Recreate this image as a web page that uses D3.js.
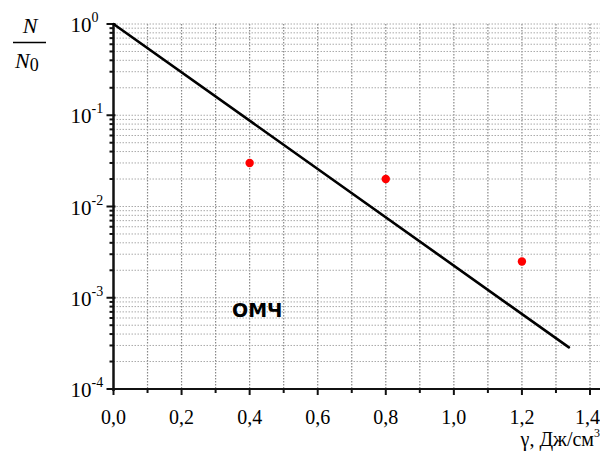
<!DOCTYPE html>
<html>
<head>
<meta charset="utf-8">
<script src="https://cdn.jsdelivr.net/npm/d3@7"></script>
<style>
  svg text, svg tspan { font-family: 'Liberation Serif', serif !important; }
  svg text.sans { font-family: 'DejaVu Sans', sans-serif !important; }
</style>
</head>
<body style="margin:0">
<svg width="600" height="457"></svg>
<script>
// data
var lineGamma = [0, 1.338];
var lineN     = [1, 2.86e-4];
var dotGamma  = [0.4, 0.8, 1.2];
var dotN      = [0.030, 0.020, 0.0025];
var xTicks    = [0, 0.2, 0.4, 0.6, 0.8, 1.0, 1.2, 1.4];
var yTicks    = [1, 1e-1, 1e-2, 1e-3, 1e-4];
var yExps     = ["0", "-1", "-2", "-3", "-4"];

var svg = d3.select("svg");

var x = d3.scaleLinear().domain([0, 1.4]).range([113.5, 590]);
var y = d3.scaleLog().domain([1e-4, 1]).range([389, 24]);

// grid
var minorX = d3.range(1, 15).map(function(i) { return i / 10; });
var minorY = [];
[1e-4, 1e-3, 1e-2, 1e-1].forEach(function(d) {
  for (var k = 2; k <= 9; k++) minorY.push(d * k);
});
minorY = minorY.concat([1e-3, 1e-2, 1e-1, 1]);

var grid = svg.append("g");
grid.selectAll(".gx").data(minorX).enter().append("line")
  .attr("x1", function(d) { return x(d); }).attr("x2", function(d) { return x(d); })
  .attr("y1", y(1)).attr("y2", y(1e-4))
  .attr("stroke", "#888").attr("stroke-width", 1.2).attr("stroke-dasharray", "1.5,1.5");
grid.selectAll(".gy").data(minorY).enter().append("line")
  .attr("x1", x(0)).attr("x2", 600)
  .attr("y1", function(d) { return y(d); }).attr("y2", function(d) { return y(d); })
  .attr("stroke", "#aaa").attr("stroke-width", 1).attr("stroke-dasharray", "1.5,1.5");

// axes
var xAxis = svg.append("g").attr("transform", "translate(0," + y(1e-4) + ")");
xAxis.append("line").attr("x1", x(0) - 2).attr("x2", 600)
  .attr("stroke", "#111").attr("stroke-width", 2);
xAxis.selectAll(".tk").data(minorX.concat([0])).enter().append("line")
  .attr("x1", function(d) { return x(d); }).attr("x2", function(d) { return x(d); })
  .attr("y1", 0)
  .attr("y2", function(d) { return Math.round(d * 10) % 2 === 0 ? 6 : 4; })
  .attr("stroke", "#111").attr("stroke-width", 2);
xAxis.selectAll(".lb").data(xTicks).enter().append("text")
  .attr("x", function(d) { return d === 1.4 ? 600 : x(d); })
  .attr("y", 35)
  .attr("text-anchor", function(d) { return d === 1.4 ? "end" : "middle"; })
  .style("font-family", "'Liberation Serif'").style("font-size", "20px")
  .text(function(d) { return d.toFixed(1).replace(".", ","); });

var yAxis = svg.append("g").attr("transform", "translate(" + x(0) + ",0)");
yAxis.append("line").attr("y1", y(1) - 1).attr("y2", y(1e-4) + 2)
  .attr("stroke", "#111").attr("stroke-width", 2.5);
var minorTicksY = minorY.filter(function(d) { return yTicks.indexOf(d) < 0; });
yAxis.selectAll(".mt").data(minorTicksY).enter().append("line")
  .attr("x1", -4).attr("x2", 0)
  .attr("y1", function(d) { return y(d); }).attr("y2", function(d) { return y(d); })
  .attr("stroke", "#111").attr("stroke-width", 2);
yAxis.selectAll(".Mt").data(yTicks).enter().append("line")
  .attr("x1", -7).attr("x2", 2)
  .attr("y1", function(d) { return y(d); }).attr("y2", function(d) { return y(d); })
  .attr("stroke", "#111").attr("stroke-width", 2);

var yl = yAxis.selectAll(".yl").data(yTicks).enter().append("text")
  .attr("x", -43).attr("y", function(d) { return y(d) + 8; })
  .style("font-family", "'Liberation Serif'").style("font-size", "21px");
yl.append("tspan").text("10");
yl.append("tspan").attr("dy", -10).style("font-size", "14px")
  .text(function(d, i) { return yExps[i]; });

// y label N/N0
svg.append("text").attr("x", 30).attr("y", 33).attr("text-anchor", "middle")
  .style("font-family", "'Liberation Serif'").style("font-size", "22px")
  .style("font-style", "italic").text("N");
svg.append("line").attr("x1", 13).attr("x2", 46).attr("y1", 42.5).attr("y2", 42.5)
  .attr("stroke", "#000").attr("stroke-width", 1.3);
var n0 = svg.append("text").attr("x", 15).attr("y", 68)
  .style("font-family", "'Liberation Serif'").style("font-size", "22px");
n0.append("tspan").style("font-style", "italic").text("N");
n0.append("tspan").attr("dy", 3).style("font-size", "18px").text("0");

// x label with superscript
var xl = svg.append("text").attr("x", 600).attr("y", 446).attr("text-anchor", "end")
  .style("font-family", "'Liberation Serif'").style("font-size", "20px");
xl.append("tspan").text("γ, Дж/см");
xl.append("tspan").attr("dy", -9).style("font-size", "12px").text("3");

// fitted line
var lineData = lineGamma.map(function(g, i) { return [g, lineN[i]]; });
svg.append("path").datum(lineData)
  .attr("fill", "none").attr("stroke", "#000").attr("stroke-width", 2.6)
  .attr("stroke-linecap", "round")
  .attr("d", d3.line().x(function(d) { return x(d[0]); }).y(function(d) { return y(d[1]); }));

// measured points
svg.selectAll(".dot").data(dotGamma).enter().append("circle")
  .attr("cx", function(d) { return x(d); })
  .attr("cy", function(d, i) { return y(dotN[i]); })
  .attr("r", 4.2).attr("fill", "#f00");

// label
svg.append("text").attr("class", "sans").attr("x", 232).attr("y", 317)
  .style("font-size", "19px").style("font-weight", "bold")
  .text("ОМЧ");
</script>
</body>
</html>
